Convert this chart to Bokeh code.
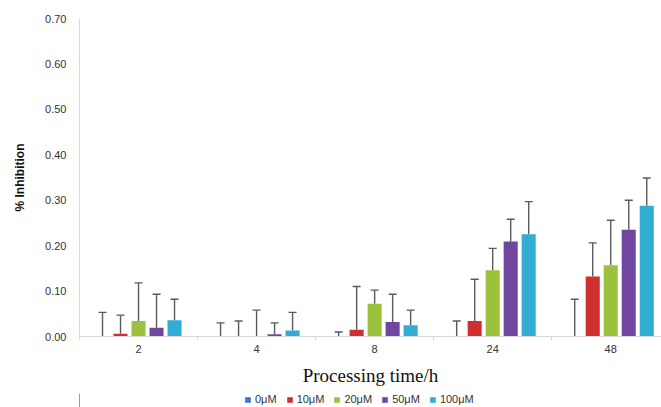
from bokeh.plotting import figure
from bokeh.layouts import column
from bokeh.models import (ColumnDataSource, Whisker, TeeHead, FixedTicker, Legend,
                          LegendItem, Range1d, PrintfTickFormatter, Title)
from bokeh.embed import file_html
from bokeh.resources import INLINE

# ---- data ----
times = ["2", "4", "8", "24", "48"]
series = ["0μM", "10μM", "20μM", "50μM", "100μM"]

mean_0uM = [0.000, 0.000, 0.000, 0.000, 0.000]
sd_0uM = [0.053, 0.030, 0.010, 0.034, 0.082]

mean_10uM = [0.006, 0.000, 0.015, 0.034, 0.132]
sd_10uM = [0.041, 0.034, 0.095, 0.092, 0.074]

mean_20uM = [0.034, 0.000, 0.072, 0.146, 0.157]
sd_20uM = [0.084, 0.058, 0.030, 0.048, 0.099]

mean_50uM = [0.019, 0.005, 0.032, 0.209, 0.235]
sd_50uM = [0.074, 0.025, 0.061, 0.049, 0.065]

mean_100uM = [0.036, 0.013, 0.025, 0.225, 0.288]
sd_100uM = [0.046, 0.040, 0.033, 0.072, 0.061]

y_ticks = [0.0, 0.1, 0.2, 0.3, 0.4, 0.5, 0.6, 0.7]

means = [mean_0uM, mean_10uM, mean_20uM, mean_50uM, mean_100uM]
sds = [sd_0uM, sd_10uM, sd_20uM, sd_50uM, sd_100uM]
colors = ["#3b76c4", "#d02f2f", "#9cc23d", "#6f479f", "#31acd3"]

p = figure(frame_width=582, frame_height=318, output_backend="svg", toolbar_location=None,
           x_range=Range1d(0.5, 5.43), y_range=Range1d(0, 0.70),
           min_border_left=79, min_border_right=0, min_border_top=18,
           min_border_bottom=52)
p.outline_line_color = None
p.grid.visible = False
p.background_fill_color = "white"
p.border_fill_color = "white"

# small strip holding the legend under the chart
lg = figure(width=661, height=19, output_backend="svg", toolbar_location=None,
            x_range=Range1d(0, 1), y_range=Range1d(0, 1), min_border=0,
            x_axis_location=None, y_axis_location=None)
lg.grid.visible = False
lg.outline_line_color = None
lg.background_fill_color = "white"
lg.border_fill_color = "white"

group_x = list(range(1, len(times) + 1))
step = 0.1525
bar_w = 0.119
items = []
for k, (name, m, s, c) in enumerate(zip(series, means, sds, colors)):
    xs = [g + (k - 2) * step for g in group_x]
    src = ColumnDataSource(dict(x=xs, top=m, hi=[a + b for a, b in zip(m, s)]))
    p.vbar(x="x", top="top", bottom=0, width=bar_w, source=src,
           fill_color=c, line_color=None)
    w = Whisker(source=src, base="x", lower="top", upper="hi",
                line_color="#5a5a5a", line_width=1.4,
                upper_head=TeeHead(size=8, line_color="#5a5a5a", line_width=1.4),
                lower_head=None)
    p.add_layout(w)
    # off-screen proxy bar so the legend swatch has something to draw from
    r2 = lg.vbar(x=[-5], top=[1], width=0.1, fill_color=c, line_color=None)
    items.append(LegendItem(label=name, renderers=[r2]))

# x axis
xa = p.xaxis[0]
xa.ticker = FixedTicker(ticks=group_x, minor_ticks=[g + 0.5 for g in [0] + group_x])
xa.major_label_overrides = {g: t for g, t in zip(group_x, times)}
xa.major_tick_out = 0
xa.major_tick_in = 0
xa.minor_tick_out = 4
xa.minor_tick_in = 0
xa.minor_tick_line_color = "#d9d9d9"
xa.axis_line_color = "#d9d9d9"
xa.major_label_text_font = "Liberation Sans"
xa.major_label_text_font_size = "11px"
xa.major_label_text_color = "#333333"
xa.major_label_standoff = 4

xtitle = Title(text="Processing time/h", align="center",
               text_font="Liberation Serif", text_font_style="normal",
               text_font_size="19px", text_color="#111111",
               standoff=15, offset=0)
p.add_layout(xtitle, "below")

# y axis
ya = p.yaxis[0]
ya.ticker = FixedTicker(ticks=y_ticks)
ya.formatter = PrintfTickFormatter(format="%.2f")
ya.major_tick_out = 0
ya.major_tick_in = 0
ya.minor_tick_out = 0
ya.minor_tick_in = 0
ya.axis_line_color = "#d9d9d9"
ya.major_label_text_font = "Liberation Sans"
ya.major_label_text_font_size = "11px"
ya.major_label_text_color = "#333333"
ya.major_label_standoff = 13
ya.axis_label = "% Inhibition"
ya.axis_label_text_font = "Liberation Sans"
ya.axis_label_text_font_style = "bold"
ya.axis_label_text_font_size = "12px"
ya.axis_label_text_color = "#111111"
ya.axis_label_standoff = 15

legend = Legend(items=items, orientation="horizontal", location=(165, 7),
                glyph_width=7, glyph_height=7, label_standoff=4, spacing=9,
                padding=0, margin=0, border_line_color=None,
                background_fill_alpha=0,
                label_text_font="Liberation Sans", label_text_font_size="11px",
                label_text_color="#333333", label_height=11)
lg.add_layout(legend)

layout = column(p, lg, spacing=0)
open("out.html", "w").write(file_html(layout, INLINE))
